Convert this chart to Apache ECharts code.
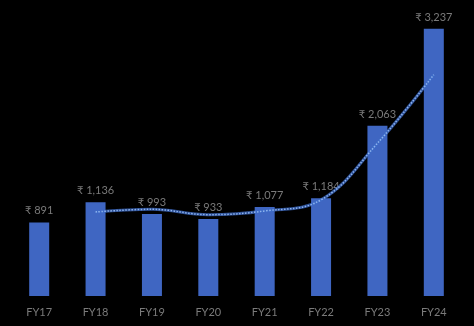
<!DOCTYPE html>
<html><head><meta charset="utf-8">
<script src="https://cdn.jsdelivr.net/npm/echarts@6/dist/echarts.min.js"></script>
<style>html,body{margin:0;padding:0;background:#000;}#c{width:474px;height:326px;}</style>
</head><body><div id="c"></div>
<script>
var categories = ['FY17','FY18','FY19','FY20','FY21','FY22','FY23','FY24'];
var values = [891, 1136, 993, 933, 1077, 1184, 2063, 3237];
var trend = [null, 1018, 1050, 985, 1030, 1164, 1850, 2680];

var chart = echarts.init(document.getElementById('c'));
chart.setOption({
  backgroundColor: '#000',
  animation: false,
  grid: {left: 11, right: 12, top: 7, bottom: 30},
  xAxis: {
    type: 'category', data: categories,
    axisLine: {show: false}, axisTick: {show: false},
    axisLabel: {color: '#7a7a7a', fontFamily: 'Lato', fontSize: 11, margin: 11}
  },
  yAxis: {type: 'value', min: 0, max: 3500, show: false, splitLine: {show: false}},
  series: [{
    type: 'bar', data: values, barWidth: 20,
    itemStyle: {color: '#3f66c2'},
    label: {show: true, position: 'top', distance: 6, color: '#7a7a7a', fontFamily: 'Lato', fontSize: 11,
      formatter: function(p){ return '\u20B9 ' + p.value.toLocaleString('en-US'); }}
  }, {
    type: 'line', data: trend, smooth: 0.4, symbol: 'none',
    lineStyle: {color: '#3d6cc8', width: 3, opacity: 0.75}, z: 4
  }, {
    type: 'line', data: trend, smooth: 0.4, symbol: 'none',
    lineStyle: {color: '#8fb4ee', width: 1.5, type: 'dotted'}, z: 5
  }]
});
</script></body></html>
